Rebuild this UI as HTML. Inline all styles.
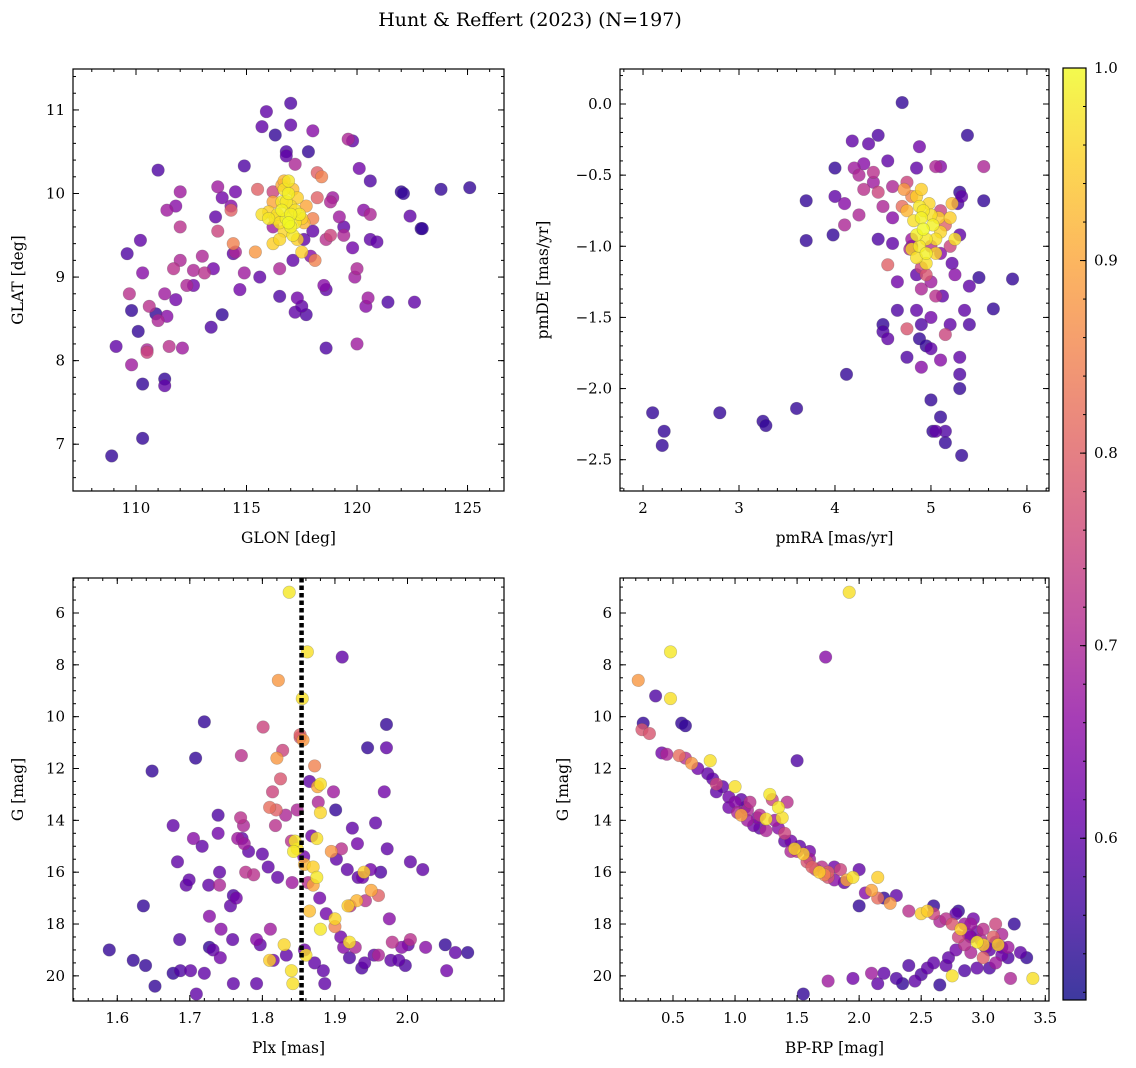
<!DOCTYPE html>
<html><head><meta charset="utf-8"><style>
body{margin:0;background:#fff;}
svg{display:block;font-family:"DejaVu Serif","Liberation Serif",serif;}
</style></head><body>
<svg id="fig" width="1136" height="1068" viewBox="0 0 1136 1068" xmlns="http://www.w3.org/2000/svg">
<text x="530" y="26" text-anchor="middle" font-size="19">Hunt &amp; Reffert (2023) (N=197)</text>
</svg>
<script>
// ---------- Panel 1 data: GLON / GLAT ----------
const p1Lon=[108.9,109.1,109.6,109.7,109.8,109.8,110.2,110.1,110.3,110.3,110.3,110.5,110.5,110.6,110.9,111.0,111.0,111.3,111.3,111.3,111.4,111.5,111.4,111.7,111.8,111.8,112.0,112.0,112.0,112.1,112.3,112.6,112.6,113.1,113.0,113.4,113.5,113.6,113.7,113.7,113.9,113.9,114.3,114.3,114.4,114.5,114.5,114.4,114.9,114.9,114.7,115.4,115.6,115.5,115.7,115.9,116.0,116.2,116.2,116.2,116.3,116.5,116.5,116.6,116.7,116.8,116.8,116.9,117.0,117.0,117.2,117.1,117.2,117.3,117.5,117.7,117.5,117.6,117.8,118.0,117.9,118.0,118.1,118.2,118.2,118.4,118.5,118.6,118.6,118.6,118.8,118.8,118.9,119.2,119.4,119.4,119.6,119.8,119.8,119.9,120.0,120.0,120.1,120.3,120.4,120.6,120.6,120.6,120.5,120.9,121.4,122.0,122.1,122.4,122.6,122.9,122.95,123.8,125.1,
116.4,116.6,116.8,117.0,117.2,116.7,117.3,116.9,117.1,116.5,117.4,116.6,116.9,117.0,117.2,116.8,117.5,116.3,117.6,117.0,116.7,117.1,116.5,117.3,115.7,116.0,117.7,118.0,116.2];
const p1Lat=[6.86,8.17,9.28,8.8,8.6,7.95,9.44,8.35,9.05,7.72,7.07,8.13,8.1,8.65,8.56,8.48,10.28,8.8,7.78,7.7,9.8,8.17,8.53,9.1,8.73,9.85,10.02,9.2,9.6,8.15,8.9,9.08,8.9,9.05,9.25,8.4,9.1,9.72,10.08,9.55,8.55,9.95,9.85,9.8,9.4,9.3,10.02,9.28,10.33,9.05,8.85,9.3,9.0,10.05,10.8,10.98,9.78,9.6,10.02,9.4,10.7,8.77,9.1,10.1,10.15,10.5,10.45,10.15,11.08,10.82,10.35,9.2,8.58,8.75,8.65,8.55,9.3,9.45,10.5,10.75,9.25,9.55,9.2,9.95,10.25,10.2,8.9,8.85,8.15,9.45,9.9,9.5,9.95,9.72,9.6,9.5,10.65,10.63,9.35,9.0,9.1,8.2,10.3,9.8,8.65,9.75,10.15,9.45,8.75,9.42,8.7,10.02,10.0,9.73,8.7,9.58,9.58,10.05,10.07,
9.75,9.9,9.7,9.85,9.65,9.55,9.95,10.0,9.5,9.65,9.75,9.8,9.65,9.75,9.8,9.9,9.7,9.7,9.65,9.6,10.05,10.05,9.45,9.45,9.75,9.7,9.85,9.7,9.9];
const p1Prob=[.55,.6,.58,.72,.55,.68,.6,.55,.65,.55,.55,.7,.75,.72,.55,.7,.58,.68,.55,.6,.68,.72,.65,.72,.62,.65,.68,.7,.72,.68,.7,.7,.62,.72,.7,.58,.62,.6,.68,.75,.55,.62,.65,.8,.85,.7,.62,.6,.58,.68,.62,.88,.6,.8,.6,.6,.95,.68,.75,.95,.55,.58,.7,.9,.92,.58,.6,.98,.58,.6,.7,.6,.6,.62,.6,.58,.95,.6,.55,.65,.65,.6,.85,.8,.8,.85,.65,.6,.58,.72,.7,.75,.68,.68,.6,.7,.7,.6,.62,.68,.7,.68,.62,.65,.65,.7,.58,.6,.68,.6,.58,.55,.55,.6,.6,.55,.55,.55,.55,
.97,.98,.99,.97,.98,.96,.95,.99,.98,.97,.99,.99,1,.99,.97,.98,.95,.96,.92,.99,.97,.93,.96,.95,.97,.98,.9,.85,.9];

// ---------- Panel 2 data: pmRA / pmDE ----------
const p2RA=[2.1,2.2,2.22,2.8,3.25,3.28,3.6,3.7,3.7,4.0,4.0,3.98,4.1,4.1,4.12,4.18,4.2,4.25,4.3,4.3,4.25,4.35,4.4,4.4,4.45,4.45,4.45,4.5,4.5,4.5,4.55,4.55,4.55,4.6,4.6,4.6,4.65,4.65,4.7,4.75,4.75,4.75,4.7,4.8,4.8,4.85,4.85,4.88,4.9,4.9,4.95,5.0,5.0,5.0,5.02,5.05,5.1,5.1,5.15,5.15,5.2,5.22,5.25,5.3,5.3,5.32,5.3,5.3,5.3,5.32,5.28,5.35,5.4,5.4,5.38,5.5,5.55,5.55,5.65,5.85,5.1,5.05,5.1,5.15,5.2,5.05,5.1,5.12,5.15,5.0,4.95,5.0,4.9,4.9,4.8,4.85,4.78,4.88,
4.85,4.88,4.9,4.92,4.85,4.95,5.0,5.02,4.88,4.95,5.05,5.08,4.82,4.9,4.98,5.1,4.8,4.95,5.2,5.22,5.25,4.75,4.72,4.92,5.05,4.85];
const p2DE=[-2.17,-2.4,-2.3,-2.17,-2.23,-2.26,-2.14,-0.68,-0.96,-0.45,-0.65,-0.92,-0.85,-0.7,-1.9,-0.26,-0.45,-0.5,-0.6,-0.42,-0.78,-0.28,-0.48,-0.55,-0.22,-0.62,-0.95,-0.72,-1.55,-1.6,-1.65,-0.4,-1.13,-0.58,-0.8,-0.98,-1.25,-1.45,0.01,-1.58,-1.78,-0.55,-0.72,-0.65,-1.0,-1.2,-1.45,-1.65,-1.85,-1.3,-1.7,-2.08,-1.72,-1.5,-2.3,-2.3,-2.2,-1.8,-2.3,-2.38,-1.55,-1.12,-1.2,-1.9,-2.0,-2.47,-1.78,-0.92,-0.62,-0.65,-0.7,-1.45,-1.55,-1.28,-0.22,-1.22,-0.68,-0.44,-1.44,-1.23,-0.44,-0.44,-0.75,-0.85,-1.0,-1.35,-1.05,-1.35,-1.62,-1.0,-1.2,-1.25,-1.15,-1.55,-0.95,-0.45,-1.02,-0.3,
-0.65,-0.72,-0.8,-0.88,-0.92,-0.95,-0.78,-0.85,-1.0,-1.05,-0.95,-0.8,-0.82,-0.6,-0.7,-0.9,-1.02,-1.12,-0.8,-0.7,-0.95,-0.75,-0.6,-0.75,-1.05,-1.08];
const p2Prob=[.55,.55,.55,.55,.55,.55,.55,.55,.55,.55,.6,.55,.7,.65,.55,.6,.68,.7,.72,.65,.7,.6,.72,.68,.58,.75,.58,.7,.55,.58,.6,.6,.8,.7,.65,.6,.62,.58,.55,.78,.58,.75,.82,.85,.6,.6,.6,.55,.65,.7,.55,.55,.6,.62,.55,.6,.55,.65,.58,.55,.6,.6,.65,.58,.55,.55,.6,.6,.55,.6,.58,.6,.58,.6,.55,.55,.55,.7,.55,.55,.65,.7,.75,.8,.75,.72,.65,.6,.75,.72,.78,.68,.75,.58,.68,.6,.7,.62,
.95,.98,.99,1,.99,.98,.97,.99,.98,.99,.97,.95,.97,.95,.96,.96,.96,.97,.95,.93,.97,.92,.88,.98,.96,.97];

// ---------- Panel 3 data: Plx / G ----------
const p3Plx=[1.589,1.622,1.636,1.639,1.648,1.652,1.677,1.677,1.683,1.686,1.687,1.695,1.699,1.701,1.705,1.708,1.709,1.717,1.72,1.72,1.726,1.727,1.727,1.732,1.739,1.739,1.741,1.741,1.742,1.743,1.756,1.759,1.76,1.76,1.764,1.766,1.77,1.771,1.772,1.774,1.775,1.777,1.781,1.788,1.792,1.792,1.797,1.8,1.801,1.808,1.811,1.814,1.815,1.818,1.819,1.821,1.825,1.828,1.832,1.833,1.84,1.841,1.848,1.852,1.857,1.858,1.863,1.865,1.868,1.872,1.877,1.879,1.884,1.886,1.888,1.898,1.901,1.902,1.908,1.909,1.912,1.917,1.92,1.921,1.924,1.928,1.931,1.932,1.937,1.938,1.941,1.942,1.945,1.949,1.954,1.956,1.96,1.963,1.968,1.971,1.971,1.972,1.975,1.977,1.979,1.988,1.992,1.997,2.001,2.004,2.004,2.021,2.025,2.052,2.054,2.066,2.083,1.91,
1.837,1.862,1.855,1.822,1.856,1.852,1.872,1.876,1.88,1.88,1.875,1.87,1.875,1.845,1.843,1.848,1.858,1.865,1.918,1.92,1.93,1.94,1.95,1.9,1.88,1.86,1.84,1.842,1.81,1.83,1.9,1.96,1.82,1.81,1.87,1.895];
const p3G=[19.0,19.4,17.3,19.6,12.1,20.4,19.9,14.2,15.6,18.6,19.8,16.5,16.3,19.8,14.7,11.6,20.7,15.0,10.2,19.9,16.5,17.7,18.9,19.0,13.8,14.5,16.0,16.5,19.3,18.2,17.3,18.6,16.9,20.3,17.0,14.7,13.9,11.5,14.7,14.2,14.9,16.0,15.2,16.1,18.6,20.3,18.8,15.3,10.4,15.8,18.2,12.9,19.4,14.2,13.6,16.2,12.4,11.3,13.8,19.2,14.8,16.4,13.6,10.8,15.4,19.0,16.4,12.5,14.6,19.5,13.3,17.0,19.8,20.3,17.6,12.9,13.6,15.5,18.5,15.1,18.9,15.9,19.3,17.3,14.3,18.9,14.9,16.2,19.7,16.2,19.5,17.1,11.2,15.9,19.2,14.1,19.2,16.0,12.9,10.3,11.2,15.1,17.8,19.4,18.7,19.4,18.9,19.6,18.8,15.6,18.6,15.9,18.9,18.8,19.8,19.1,19.1,7.7,
5.2,7.5,9.3,8.6,10.9,10.7,11.9,12.7,12.6,13.7,14.7,15.8,16.2,14.8,15.2,15.1,15.7,17.5,17.3,18.7,17.1,16.0,16.7,17.8,18.2,19.2,19.8,20.3,19.4,18.8,18.1,16.9,11.6,13.5,16.5,15.2];
const p3Prob=[.55,.55,.55,.55,.55,.55,.55,.6,.6,.58,.58,.6,.6,.6,.65,.55,.6,.6,.55,.6,.6,.65,.55,.6,.58,.62,.6,.7,.62,.65,.6,.6,.58,.6,.62,.68,.72,.72,.6,.7,.68,.72,.6,.72,.65,.6,.6,.6,.75,.6,.68,.75,.62,.72,.8,.6,.78,.75,.7,.6,.72,.68,.7,.78,.62,.62,.72,.6,.62,.6,.7,.62,.6,.6,.62,.68,.55,.6,.62,.72,.65,.6,.58,.72,.6,.7,.62,.6,.58,.62,.6,.72,.55,.62,.6,.6,.7,.58,.62,.55,.6,.6,.65,.6,.72,.6,.65,.58,.6,.6,.72,.6,.65,.55,.62,.6,.55,.6,
.98,.97,.97,.88,.88,.8,.85,.9,.97,.96,.97,.95,.98,.98,.98,.97,.92,.93,.95,.97,.92,.95,.9,.96,.98,.97,.97,.97,.95,.96,.85,.8,.88,.82,.9,.88];

// ---------- Panel 4 data: BP-RP / G ----------
const p4Col=[0.22,0.48,0.48,1.73,1.92,0.26,0.25,0.31,0.36,0.41,0.45,0.57,0.6,0.55,0.6,0.65,0.7,0.8,0.78,0.82,0.85,0.9,0.95,1.0,1.0,1.02,1.05,1.08,1.1,1.12,1.15,1.18,1.2,1.25,1.28,1.3,1.32,1.35,1.35,1.38,1.4,1.42,1.45,1.48,1.5,1.52,1.55,1.5,1.58,1.6,1.62,1.65,1.68,1.72,1.75,1.8,1.85,1.88,1.95,2.0,2.0,2.1,2.15,2.15,2.25,2.3,2.5,2.55,2.6,2.7,2.75,2.78,2.8,2.82,2.85,2.88,2.9,2.92,2.95,2.98,3.0,3.02,3.05,3.08,3.1,3.12,3.15,3.2,3.25,3.3,3.35,3.4,2.8,2.85,2.9,3.0,3.1,3.15,3.2,2.95,3.05,2.85,3.22,2.7,
1.55,1.75,1.95,2.1,2.15,2.2,2.3,2.35,2.45,2.5,2.55,2.65,2.6,2.72,2.78,2.75,2.4,
0.85,0.95,1.05,1.1,1.2,1.25,1.4,1.45,1.6,1.7,1.75,1.8,1.9,2.05,2.2,2.4,2.6,2.65,2.9,2.95,3.0,3.1,3.15];
const p4G=[8.6,7.5,9.3,7.7,5.2,10.25,10.5,10.65,9.2,11.4,11.45,10.25,10.35,11.5,11.6,11.8,12.0,11.7,12.2,12.4,12.6,12.7,13.1,12.7,13.3,13.7,13.8,13.5,14.0,13.3,14.2,13.9,14.3,14.4,13.0,13.2,14.0,13.5,14.3,13.9,14.5,13.3,14.8,15.1,15.2,15.0,15.3,11.7,15.6,15.5,15.8,15.9,16.0,16.1,16.2,16.3,15.9,16.4,16.2,15.9,17.3,16.7,16.2,17.0,17.2,16.9,17.6,17.5,17.6,17.8,18.0,17.6,17.5,18.2,18.0,18.4,18.5,17.8,18.7,18.6,18.2,18.9,19.0,18.5,18.0,18.8,18.9,19.3,18.0,19.1,19.3,20.1,18.5,18.8,19.1,19.3,19.5,19.2,18.9,19.7,19.7,19.8,20.1,19.6,
20.7,20.2,20.1,19.9,20.3,19.9,20.1,20.3,20.2,19.95,19.7,20.35,19.5,19.3,19.0,20.0,19.6,
12.9,13.5,13.2,13.6,13.8,13.95,14.8,15.2,15.2,15.8,16.0,15.8,16.3,16.8,17.0,17.5,17.3,17.9,18.0,18.3,18.8,18.7,18.4];
const p4Prob=[.88,.98,.97,.65,.97,.55,.78,.78,.58,.62,.7,.55,.55,.82,.72,.88,.62,.97,.6,.6,.75,.6,.62,.97,.65,.7,.9,.6,.68,.72,.62,.65,.6,.7,.98,.75,.68,.98,.65,.97,.75,.72,.62,.96,.72,.6,.95,.58,.78,.68,.8,.75,.95,.85,.78,.65,.75,.6,.97,.6,.55,.9,.95,.82,.88,.6,.95,.95,.75,.72,.78,.6,.55,.95,.68,.65,.6,.62,.98,.7,.72,.65,.6,.8,.75,.95,.6,.58,.55,.6,.55,.97,.75,.72,.7,.8,.68,.62,.68,.6,.58,.58,.7,.6,
.55,.68,.62,.68,.6,.6,.58,.55,.6,.58,.6,.55,.6,.6,.62,.97,.58,
.6,.62,.6,.7,.72,.97,.6,.7,.62,.72,.8,.62,.9,.65,.55,.72,.55,.7,.68,.62,.95,.6,.7];

// ---------- colour bar ticks ----------
const cbTicks=[0.6,0.7,0.8,0.9,1.0];
const vmin=0.516, vmax=1.0;

const NS="http://www.w3.org/2000/svg";
const svg=document.getElementById('fig');
function mk(tag,attrs,parent){const e=document.createElementNS(NS,tag);for(const k in attrs)e.setAttribute(k,attrs[k]);(parent||svg).appendChild(e);return e;}
const plasma=[[13,8,135],[65,4,157],[106,0,168],[143,13,164],[177,42,144],[204,71,120],[225,100,98],[242,132,75],[252,166,54],[252,206,37],[240,249,33]];
function cmap(v){let t=(v-vmin)/(vmax-vmin);t=Math.max(0,Math.min(1,t));const f=t*10,i=Math.min(9,Math.floor(f)),r=f-i;const a=plasma[i],b=plasma[i+1];return `rgb(${Math.round(a[0]+(b[0]-a[0])*r)},${Math.round(a[1]+(b[1]-a[1])*r)},${Math.round(a[2]+(b[2]-a[2])*r)})`;}
function fmt(v,d){const s=v.toFixed(d);return v<0?'\u2212'+s.slice(1):s;}

function panel(o){
  const g=mk('g',{});
  
  
  const sx=v=>o.x0+(v-o.xmin)/(o.xmax-o.xmin)*(o.x1-o.x0);
  const sy=v=>o.inv? o.y0+(v-o.ymin)/(o.ymax-o.ymin)*(o.y1-o.y0) : o.y1-(v-o.ymin)/(o.ymax-o.ymin)*(o.y1-o.y0);
  const clip='c'+o.name;
  const cp=mk('clipPath',{id:clip},g);mk('rect',{x:o.x0,y:o.y0,width:o.x1-o.x0,height:o.y1-o.y0},cp);
  const pts=mk('g',{'clip-path':`url(#${clip})`},g);
  const idx=o.xs.map((_,i)=>i).sort((a,b)=>o.c[a]-o.c[b]);
  for(const i of idx){
    const c=mk('circle',{cx:sx(o.xs[i]),cy:sy(o.ys[i]),r:6.3,fill:cmap(o.c[i]),'fill-opacity':0.8,stroke:'rgba(90,90,90,0.35)','stroke-width':0.6},pts);
    
    
  }
  if(o.vline!==undefined){
    const l=mk('line',{x1:sx(o.vline),x2:sx(o.vline),y1:o.y0,y2:o.y1,stroke:'#000','stroke-width':4.5,'stroke-dasharray':'4.5 3'},g);
    
    
  }
  const fr=mk('rect',{x:o.x0,y:o.y0,width:o.x1-o.x0,height:o.y1-o.y0,fill:'none',stroke:'#000','stroke-width':1.2},g);
  
  
  const tk=mk('g',{stroke:'#000','stroke-width':1},g);
  const eps=1e-9;
  for(let v=Math.ceil(o.xmin/o.xminor-eps)*o.xminor;v<=o.xmax+eps;v+=o.xminor){
    const X=sx(v);mk('line',{x1:X,x2:X,y1:o.y1,y2:o.y1-3},tk);mk('line',{x1:X,x2:X,y1:o.y0,y2:o.y0+3},tk);}
  for(let v=Math.ceil(o.ymin/o.yminor-eps)*o.yminor;v<=o.ymax+eps;v+=o.yminor){
    const Y=sy(v);mk('line',{x1:o.x0,x2:o.x0+3,y1:Y,y2:Y},tk);mk('line',{x1:o.x1,x2:o.x1-3,y1:Y,y2:Y},tk);}
  for(const v of o.xt){const X=sx(v);mk('line',{x1:X,x2:X,y1:o.y1,y2:o.y1-6},tk);mk('line',{x1:X,x2:X,y1:o.y0,y2:o.y0+6},tk);
    const t=mk('text',{x:X,y:o.y1+22,'text-anchor':'middle','font-size':15},g);t.textContent=fmt(v,o.xd);
    }
  for(const v of o.yt){const Y=sy(v);mk('line',{x1:o.x0,x2:o.x0+6,y1:Y,y2:Y},tk);mk('line',{x1:o.x1,x2:o.x1-6,y1:Y,y2:Y},tk);
    const t=mk('text',{x:o.x0-8,y:Y+5,'text-anchor':'end','font-size':15},g);t.textContent=fmt(v,o.yd);
    }
  const xl=mk('text',{x:(o.x0+o.x1)/2,y:o.y1+52,'text-anchor':'middle','font-size':15.5},g);xl.textContent=o.xlab;
  
  const yx=o.ylx, yy=(o.y0+o.y1)/2;
  const yl=mk('text',{x:yx,y:yy,'text-anchor':'middle','font-size':15.5,transform:`rotate(-90 ${yx} ${yy})`},g);yl.textContent=o.ylab;
  
}
panel({name:'panel-glon-glat',x0:73,x1:504,y0:69,y1:491,xmin:107.15,xmax:126.65,ymin:6.44,ymax:11.49,xs:p1Lon,ys:p1Lat,c:p1Prob,xt:[110,115,120,125],xd:0,yt:[7,8,9,10,11],yd:0,xminor:1,yminor:0.2,xlab:'GLON [deg]',ylab:'GLAT [deg]',ylx:23});
panel({name:'panel-pmra-pmde',x0:620,x1:1049,y0:69,y1:491,xmin:1.76,xmax:6.23,ymin:-2.72,ymax:0.246,xs:p2RA,ys:p2DE,c:p2Prob,xt:[2,3,4,5,6],xd:0,yt:[-2.5,-2,-1.5,-1,-0.5,0],yd:1,xminor:0.2,yminor:0.1,xlab:'pmRA [mas/yr]',ylab:'pmDE [mas/yr]',ylx:548});
panel({name:'panel-plx-g',x0:73,x1:504,y0:578,y1:1001,xmin:1.539,xmax:2.133,ymin:4.65,ymax:20.97,inv:true,xs:p3Plx,ys:p3G,c:p3Prob,xt:[1.6,1.7,1.8,1.9,2.0],xd:1,yt:[6,8,10,12,14,16,18,20],yd:0,xminor:0.02,yminor:0.5,xlab:'Plx [mas]',ylab:'G [mag]',ylx:23,vline:1.854});
panel({name:'panel-color-magnitude',x0:620,x1:1049,y0:578,y1:1001,xmin:0.073,xmax:3.53,ymin:4.65,ymax:20.97,inv:true,xs:p4Col,ys:p4G,c:p4Prob,xt:[0.5,1,1.5,2,2.5,3,3.5],xd:1,yt:[6,8,10,12,14,16,18,20],yd:0,xminor:0.1,yminor:0.5,xlab:'BP-RP [mag]',ylab:'G [mag]',ylx:568});

// colour bar
(function(){
  const x0=1063,x1=1086,y0=68,y1=1000;
  const cb=mk('g',{});
  
  
  const defs=mk('defs',{},cb);
  const lg=mk('linearGradient',{id:'cbg',x1:0,y1:1,x2:0,y2:0},defs);
  for(let i=0;i<=10;i++){mk('stop',{offset:i/10,'stop-color':`rgb(${plasma[i].join(',')})`},lg);}
  mk('rect',{x:x0,y:y0,width:x1-x0,height:y1-y0,fill:'url(#cbg)','fill-opacity':0.8},cb);
  mk('rect',{x:x0,y:y0,width:x1-x0,height:y1-y0,fill:'none',stroke:'#000','stroke-width':1.2},cb);
  const sy=v=>y1-(v-vmin)/(vmax-vmin)*(y1-y0);
  for(let v=0.52;v<=1.0001;v+=0.02){const Y=sy(v);mk('line',{x1:x1,x2:x1-3,y1:Y,y2:Y,stroke:'#000'},cb);}
  for(const v of cbTicks){const Y=sy(v);mk('line',{x1:x1,x2:x1-6,y1:Y,y2:Y,stroke:'#000'},cb);
    const t=mk('text',{x:x1+8,y:Y+5,'font-size':15},cb);t.textContent=v.toFixed(1);
    }
})();
</script>
</body></html>
